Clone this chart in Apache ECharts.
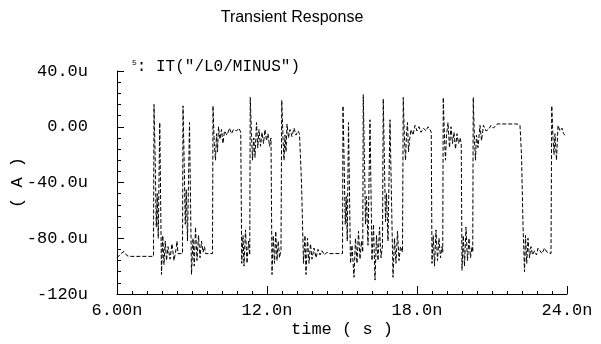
<!DOCTYPE html>
<html>
<head>
<meta charset="utf-8">
<script src="https://cdn.jsdelivr.net/npm/echarts@6/dist/echarts.min.js"></script>
<style>
    html, body { margin: 0; padding: 0; background: #fff; }
    #chart { width: 601px; height: 344px; }
</style>
</head>
<body>
<div id="chart"></div>
<script>
    // 刻度标签
    const xTickLabels = ['6.00n', '12.0n', '18.0n', '24.0n']
    const yTickLabels = ['-120u', '-80.0u', '-40.0u', '0.00', '40.0u']
    const traceName = 'IT("/L0/MINUS")'

    // 时间 (ns) 与电流 (uA)
    const timeNs = [
        6.00, 6.08, 6.16, 6.28, 6.40, 6.52, 7.46,
        7.48, 7.53, 7.57, 7.61, 7.65, 7.71, 7.78, 7.83, 7.88, 7.93, 7.98, 8.04, 8.12, 8.20, 8.28, 8.36, 8.40, 8.44, 8.62,
        8.64, 8.69, 8.73, 8.77, 8.82, 8.90, 8.98, 9.04, 9.09, 9.14, 9.20, 9.26, 9.32, 9.38, 9.44, 9.50, 9.54, 9.82,
        9.84, 9.89, 9.94, 9.98, 10.02, 10.06, 10.12, 10.18, 10.24, 10.30, 10.40, 10.50, 10.58, 10.66, 10.78, 10.88, 10.95,
        10.99, 11.04, 11.08, 11.14, 11.20, 11.26, 11.31,
        11.33, 11.38, 11.42, 11.47, 11.52, 11.58, 11.63, 11.68, 11.74, 11.80, 11.86, 11.92, 11.98, 12.04, 12.10, 12.16,
        12.20, 12.25, 12.30, 12.35, 12.40, 12.45, 12.50, 12.56,
        12.59, 12.64, 12.68, 12.72, 12.76, 12.80, 12.86, 12.92, 13.00, 13.08, 13.16, 13.24, 13.30,
        13.38, 13.46, 13.52, 13.56, 13.62, 13.68, 13.74, 13.80, 13.88, 13.96, 14.04, 14.12, 14.20, 14.30, 14.40, 14.50, 15.02,
        15.04, 15.09, 15.13, 15.17, 15.21, 15.26, 15.34, 15.40, 15.48, 15.54, 15.60, 15.66, 15.72, 15.78, 15.83,
        15.85, 15.90, 15.94, 15.98, 16.04, 16.12, 16.20, 16.26, 16.32, 16.38, 16.44, 16.50, 16.56, 16.62,
        16.65, 16.70, 16.74, 16.78, 16.84, 16.92, 17.04, 17.10, 17.16, 17.22, 17.28, 17.34, 17.42,
        17.45, 17.50, 17.54, 17.58, 17.62, 17.66, 17.70, 17.76, 17.84, 17.92, 18.00, 18.08, 18.16, 18.26, 18.36, 18.44, 18.52, 18.57,
        18.60, 18.65, 18.70, 18.76, 18.82, 18.88, 18.94, 19.00, 19.03,
        19.05, 19.10, 19.14, 19.18, 19.24, 19.30, 19.36, 19.42, 19.48, 19.54, 19.60, 19.66, 19.72, 19.77,
        19.80, 19.85, 19.90, 19.96, 20.02, 20.08, 20.14, 20.20, 20.23,
        20.25, 20.30, 20.34, 20.38, 20.44, 20.52, 20.58, 20.66, 20.76, 20.86, 20.96, 21.06, 21.20, 21.40, 21.60, 21.80, 22.00, 22.12,
        22.18, 22.24, 22.30, 22.34, 22.39, 22.44, 22.50, 22.56, 22.62, 22.70, 22.78, 22.84, 22.92, 23.00, 23.10, 23.20, 23.36,
        23.39, 23.44, 23.48, 23.52, 23.58, 23.64, 23.72, 23.80, 23.86, 23.92
    ]
    const currentUA = [
        -94, -95, -91, -89.5, -92.5, -93, -93,
        16, -25, -72, -48, -80, 3, -106, -78, -99, -82, -96, -86, -95, -84, -96, -88, -82, -91, -91,
        15, -28, -70, -45, -82, 3, -106, -80, -100, -72, -96, -78, -94, -82, -90, -86, -91, -91,
        15, -12, -24, -5, -18, 0, -9, -2, -12, -3, -6, -1, -5, -2, -3, -1, -4,
        -98, -78, -100, -74, -98, -82, -92,
        21, -5, -24, -8, -22, 3, -15, -2, -14, -4, -12, -2, -10, -5, -14, -8,
        -106, -78, -98, -75, -96, -82, -94, -88,
        19, -8, -24, -6, -18, 2, -8, -2, -7, -1, -6, -3, -5,
        -40, -98, -78, -106, -80, -98, -84, -95, -87, -94, -88, -92, -89, -92, -90, -91, -91,
        15, -30, -70, -50, -82, 3, -98, -85, -108, -80, -98, -75, -95, -82, -90,
        23, -25, -70, -50, -85, 5, -96, -70, -110, -78, -96, -72, -94, -85,
        20, -28, -68, -48, -82, 5, -108, -80, -98, -75, -96, -86, -90,
        21, -10, -24, -5, 3, -18, -10, -2, -6, 1, -3, 0, -4, -1, -3, 0, -2, -4,
        -98, -78, -100, -74, -96, -80, -94, -86, -90,
        21, -8, -24, -6, 3, -15, 0, -12, -4, -16, -5, -12, -8, -12,
        -103, -78, -100, -72, -96, -80, -94, -86, -90,
        21, -10, -24, -6, -15, 1, -10, 1, -3, -2, 1, -1, 2, 2, 2, 2, 2, 1,
        -20, -70, -104, -78, -98, -80, -94, -86, -92, -89, -92, -87, -89, -91, -87, -90, -91,
        15, -8, -20, -5, -24, 1, -3, -1, -5, -6
    ]

    const font = 'Liberation Mono'
    const chart = echarts.init(document.getElementById('chart'), null, { renderer: 'canvas' })
    const options = {
        animation: false,
        backgroundColor: '#fff',
        title: {
            text: 'Transient Response',
            left: 287,
            top: 5,
            textAlign: 'center',
            textStyle: { fontFamily: 'Liberation Sans', fontSize: 16, fontWeight: 'normal', color: '#000' }
        },
        legend: {
            left: 122,
            top: 54,
            icon: 'none',
            itemWidth: 0,
            itemGap: 0,
            data: [traceName],
            formatter: '{m|5}: {name}',
            textStyle: {
                fontFamily: font,
                fontSize: 16,
                color: '#000',
                rich: {
                    m: { fontFamily: font, fontSize: 8, color: '#000', verticalAlign: 'top', padding: [0, 0, 8, 0] },
                    name: { fontFamily: font, fontSize: 17, color: '#000' }
                }
            }
        },
        grid: { left: 117, top: 71, right: 34, bottom: 50, containLabel: false, outerBoundsMode: 'none' },
        xAxis: {
            type: 'value',
            min: 6,
            max: 24,
            interval: 6,
            name: 'time ( s )',
            nameLocation: 'middle',
            nameGap: 27,
            nameMoveOverlap: false,
            nameTextStyle: { fontFamily: font, fontSize: 17, color: '#000' },
            axisLine: { onZero: false, lineStyle: { color: '#000', width: 1 } },
            axisTick: { inside: true, length: 8, lineStyle: { color: '#000' } },
            minorTick: { show: true, splitNumber: 10, length: 3, lineStyle: { color: '#000' } },
            splitLine: { show: false },
            axisLabel: {
                margin: 8,
                fontFamily: font,
                fontSize: 17,
                color: '#000',
                formatter: v => xTickLabels[Math.round((v - 6) / 6)]
            }
        },
        yAxis: {
            type: 'value',
            min: -120,
            max: 40,
            interval: 40,
            name: '( A )',
            nameLocation: 'middle',
            nameRotate: 90,
            nameGap: 91,
            nameMoveOverlap: false,
            nameTextStyle: { fontFamily: font, fontSize: 17, color: '#000' },
            axisLine: { show: true, onZero: false, lineStyle: { color: '#000', width: 1 } },
            axisTick: { show: true, inside: true, length: 7, lineStyle: { color: '#000' } },
            minorTick: { show: true, splitNumber: 5, length: 4, lineStyle: { color: '#000' } },
            splitLine: { show: false },
            axisLabel: {
                margin: 29,
                fontFamily: font,
                fontSize: 17,
                color: '#000',
                formatter: v => yTickLabels[Math.round((v + 120) / 40)]
            }
        },
        series: [{
            name: traceName,
            type: 'line',
            symbol: 'none',
            lineStyle: { color: '#000', width: 1, type: [4, 2] },
            data: timeNs.map((t, i) => [t, currentUA[i]])
        }]
    }
    chart.setOption(options)
</script>
</body>
</html>
